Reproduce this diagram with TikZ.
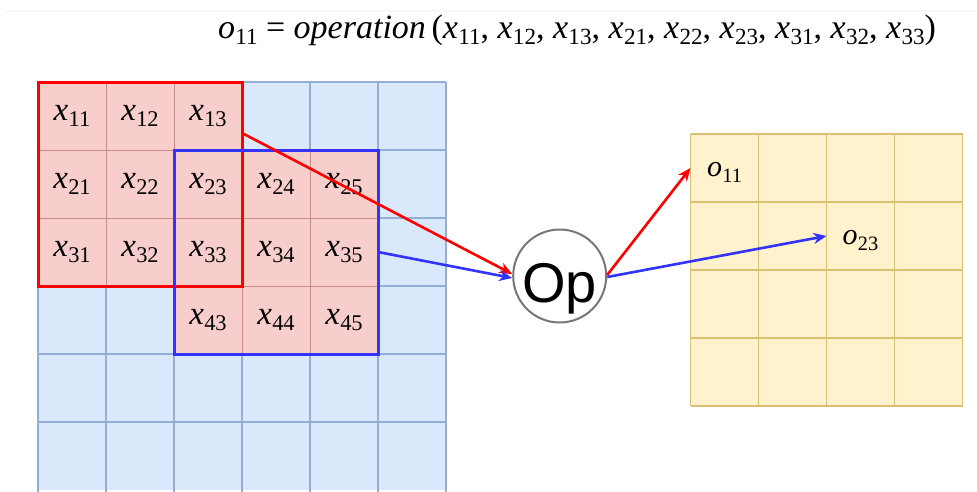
\documentclass[tikz,border=0pt]{standalone}
\usepackage{fontspec}
\usepackage{graphicx}
\setmainfont{Liberation Serif}
\newfontfamily\opfont{Liberation Sans}
\usetikzlibrary{arrows.meta,calc}
\definecolor{bluefill}{HTML}{DAE8FC}
\definecolor{bluestroke}{HTML}{94AED8}
\definecolor{pinkfill}{HTML}{F8CECC}
\definecolor{pinkstroke}{HTML}{C98A88}
\definecolor{yelfill}{HTML}{FFF2CC}
\definecolor{yelstroke}{HTML}{DCC070}
\definecolor{winred}{HTML}{FF0000}
\definecolor{winblue}{HTML}{3333FF}
\definecolor{opgray}{HTML}{777777}
\newcommand{\cl}[2]{\textit{#1}\kern0.3pt\raisebox{-0.2em}{\scalebox{0.68}{#2}}}
\begin{document}
\begin{tikzpicture}[x=1pt,y=-1pt,
  cellb/.style={fill=bluefill, minimum size=68pt, inner sep=0pt, outer sep=0pt, anchor=north west},
  cellp/.style={draw=pinkstroke, line width=0.8pt, fill=pinkfill, minimum size=68pt, inner sep=0pt, outer sep=0pt, font=\fontsize{33}{33}\selectfont},
  celly/.style={fill=yelfill, minimum size=68pt, inner sep=0pt, outer sep=0pt, anchor=north west},
  bline/.style={draw=bluestroke, line width=1.3pt},
  yline/.style={draw=yelstroke, line width=1.1pt},
  winbox/.style={line width=3pt, minimum size=204pt, inner sep=0pt, outer sep=0pt, anchor=north west},
  redarr/.style={draw=winred, line width=2.6pt, -{Stealth[length=13pt,width=11pt,inset=4pt]}},
  bluearr/.style={draw=winblue, line width=2.6pt, -{Stealth[length=13pt,width=11pt,inset=4pt]}},
  olab/.style={font=\fontsize{30}{30}\selectfont, inner sep=0pt}]
\useasboundingbox (0,0) rectangle (977,491);
\fill[black!3] (5,9.5) rectangle (977,12);
% formula
\node[inner sep=0pt] (formula) at (577,30) {\fontsize{34}{38}\selectfont
  \cl{o}{11} = \textit{operation}\,(\cl{x}{11}, \cl{x}{12}, \cl{x}{13}, \cl{x}{21}, \cl{x}{22}, \cl{x}{23}, \cl{x}{31}, \cl{x}{32}, \cl{x}{33})};
% input grid
\foreach \i in {0,...,5}
  \foreach \j in {0,...,5}
    \node[cellb] (b\i\j) at ({38+\j*68},{82+\i*68}) {};
\foreach \j in {0,...,5}
  \draw[bline] (b0\j.north west) -- ([yshift=-3pt]b5\j.south west);
\draw[bline] (b05.north east) -- ([yshift=-3pt]b55.south east);
\foreach \i in {0,...,5}
  \draw[bline] (b\i0.north west) -- (b\i5.north east);
\foreach \i/\j in {1/1,1/2,1/3,2/1,2/2,2/3,2/4,2/5,3/1,3/2,3/3,3/4,3/5,4/3,4/4,4/5}
  \node[cellp] (p\i\j) at ({38+(\j-0.5)*68},{82+(\i-0.5)*68}) {\raisebox{-4pt}{\cl{x}{\i\j}}};
\node[winbox, draw=winred] (redbox) at (38,82) {};
\node[winbox, draw=winblue] (bluebox) at (174,150) {};
% output grid
\foreach \i in {0,...,3}
  \foreach \j in {0,...,3}
    \node[celly] (y\i\j) at ({690.5+\j*68},{134+\i*68}) {};
\foreach \j in {0,...,3}
  \draw[yline] (y0\j.north west) -- (y3\j.south west);
\draw[yline] (y03.north east) -- (y33.south east);
\foreach \i in {0,...,3}
  \draw[yline] (y\i0.north west) -- (y\i3.north east);
\draw[yline] (y30.south west) -- (y33.south east);
\node[olab] (o11) at ([yshift=-4pt]y00.center) {\cl{o}{11}};
\node[olab] (o23) at ([yshift=-5pt]y12.center) {\cl{o}{23}};
% operation
\node[circle, draw=opgray, line width=2pt, fill=white, minimum size=93pt, inner sep=0pt] (op) at (559.7,276) {};
\node[anchor=base, inner sep=0pt, font=\opfont\fontsize{56}{56}\selectfont] (oplabel) at ([yshift=-26pt]op.center) {Op};
% connectors
\draw[redarr] ($(redbox.north east)!0.25!(redbox.south east)$) -- ([yshift=2pt]op.west);
\draw[bluearr] (bluebox.east) -- ([yshift=-2pt]op.west);
\draw[redarr] ([yshift=1pt]op.east) -- (y00.west);
\draw[bluearr] ([yshift=-1pt]op.east) -- (y12.west);
\end{tikzpicture}
\end{document}
